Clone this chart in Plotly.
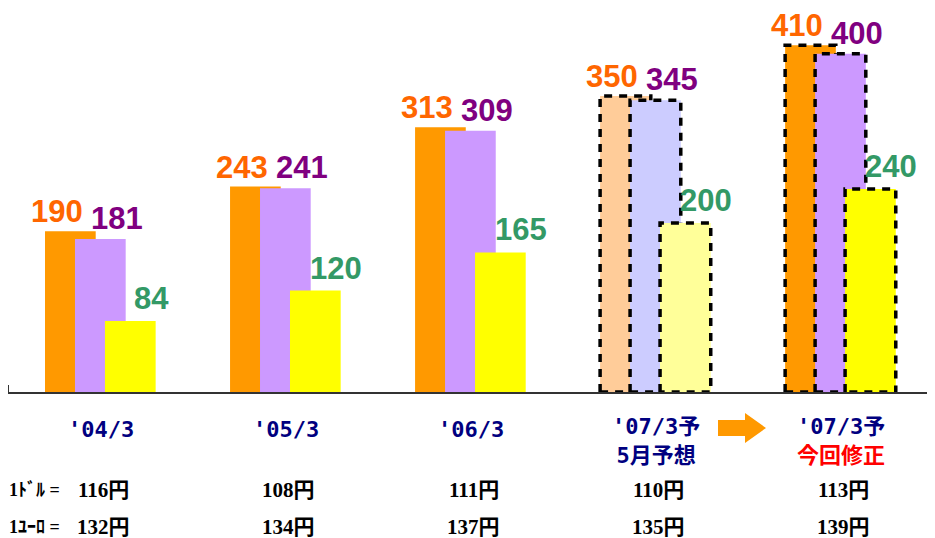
import plotly.graph_objects as go

# ---------------- data ----------------
categories = ["'04/3", "'05/3", "'06/3", "'07/3予", "'07/3予"]
subtitles = ["", "", "", "5月予想", "今回修正"]
subtitle_colors = ["#000080", "#000080", "#000080", "#000080", "#FF0000"]
series_a = [190, 243, 313, 350, 410]   # orange
series_b = [181, 241, 309, 345, 400]   # purple
series_c = [84, 120, 165, 200, 240]    # yellow
usd_rate = ["116円", "108円", "111円", "110円", "113円"]
eur_rate = ["132円", "134円", "137円", "135円", "139円"]
usd_label = "1ﾄﾞﾙ ="
eur_label = "1ﾕｰﾛ ="
forecast = [False, False, False, True, True]   # dashed outline
faded = [False, False, False, True, False]     # pale fill

# ---------------- styles ----------------
full_colors = ["#FF9900", "#CC99FF", "#FFFF00"]
pale_colors = ["#FFCC99", "#CCCCFF", "#FFFF99"]
text_colors = ["#FF6600", "#800080", "#339966"]
label_xshift = [-13, 17, 21]
label_yshift = [1, 2, 4]
BAR_W = 0.274
OFFSETS = [-0.30, -0.138, 0.024]

series = [series_a, series_b, series_c]
xs = list(range(len(categories)))

fig = go.Figure()

for k, vals in enumerate(series):
    colors = [pale_colors[k] if f else full_colors[k] for f in faded]
    fig.add_trace(go.Bar(
        x=xs, y=vals, width=BAR_W, offset=OFFSETS[k],
        marker=dict(color=colors, line=dict(width=0)),
        hoverinfo="skip", showlegend=False,
    ))

# dashed outlines for forecast groups
for k, vals in enumerate(series):
    ox, oy = [], []
    for i, v in enumerate(vals):
        if not forecast[i]:
            continue
        x0 = i + OFFSETS[k]
        x1 = x0 + BAR_W
        if k + 1 < len(series):
            nv = series[k + 1][i]
            nx0 = i + OFFSETS[k + 1]
            top_end = x1 if nv < v else nx0
            ox += [x0, x0, top_end]
            oy += [0, v, v]
            if nv < v:
                ox += [x1]
                oy += [nv]
            ox += [None, x0, nx0, None]
            oy += [None, 0, 0, None]
        else:
            ox += [x0, x0, x1, x1, x0, None]
            oy += [0, v, v, 0, 0, None]
    if ox:
        fig.add_trace(go.Scatter(
            x=ox, y=oy, mode="lines",
            line=dict(color="black", width=3.5, dash="8px,7px"),
            hoverinfo="skip", showlegend=False, cliponaxis=False,
        ))

annotations = []
# value labels
for k, vals in enumerate(series):
    for i, v in enumerate(vals):
        annotations.append(dict(
            x=i + OFFSETS[k] + BAR_W / 2, y=v, xref="x", yref="y",
            text=str(v), showarrow=False, xanchor="center", yanchor="bottom",
            xshift=label_xshift[k], yshift=label_yshift[k], borderpad=0,
            font=dict(family="Liberation Sans", size=31, color=text_colors[k],
                      weight="bold"),
        ))

# category labels and rates
for i, c in enumerate(categories):
    if subtitles[i]:
        text = (f"{c}<br><span style='color:{subtitle_colors[i]}'>"
                f"{subtitles[i]}</span>")
        yshift = -49
    else:
        text = c
        yshift = -37
    annotations.append(dict(
        x=i, y=0, xref="x", yref="paper", text=text, showarrow=False,
        xanchor="center", yanchor="middle", yshift=yshift, borderpad=0,
        font=dict(family="DejaVu Sans Mono, Noto Sans CJK JP", size=22,
                  color="#000080", weight="bold"),
    ))
    annotations.append(dict(
        x=i, y=0, xref="x", yref="paper", text=usd_rate[i], showarrow=False,
        xanchor="center", yanchor="middle", yshift=-98, xshift=3, borderpad=0,
        font=dict(family="Liberation Serif, Noto Sans CJK JP", size=21,
                  color="black", weight="bold"),
    ))
    annotations.append(dict(
        x=i, y=0, xref="x", yref="paper", text=eur_rate[i], showarrow=False,
        xanchor="center", yanchor="middle", yshift=-135, xshift=3, borderpad=0,
        font=dict(family="Liberation Serif, Noto Sans CJK JP", size=21,
                  color="black", weight="bold"),
    ))

for lbl, ys in [(usd_label, -98), (eur_label, -135)]:
    annotations.append(dict(
        x=0, y=0, xref="paper", yref="paper", text=lbl, showarrow=False,
        xanchor="left", yanchor="middle", yshift=ys, borderpad=0,
        font=dict(family="Liberation Serif, Noto Sans CJK JP", size=18,
                  color="black", weight="bold"),
    ))

# ---------------- layout ----------------
# the page body adds an 8px margin, so the figure is drawn 8px smaller
PAGE_OFF = 8
W, H = 935 - PAGE_OFF, 538 - PAGE_OFF
ML, MR, MT, MB = 0, 0, 12, 146
PW, PH = W - ML - MR, H - MT - MB


def px(xp):   # page pixel -> paper x
    return (xp - PAGE_OFF - ML) / PW


def py(yp):   # page pixel -> paper y
    return (H - MB - (yp - PAGE_OFF)) / PH


arrow_path = (
    f"M {px(718)},{py(420)} L {px(745)},{py(420)} L {px(745)},{py(413)} "
    f"L {px(766)},{py(428)} L {px(745)},{py(443)} L {px(745)},{py(436)} "
    f"L {px(718)},{py(436)} Z"
)

fig.update_layout(
    width=W, height=H,
    margin=dict(l=ML, r=MR, t=MT, b=MB),
    paper_bgcolor="white", plot_bgcolor="white",
    barmode="overlay",
    xaxis=dict(range=[-0.5, 4.51], showticklabels=False, showgrid=False,
               zeroline=False, showline=True, linecolor="#333333", linewidth=2,
               ticks=""),
    yaxis=dict(range=[0, PH / 0.8456], showticklabels=False, showgrid=False,
               zeroline=False, showline=False, ticks=""),
    annotations=annotations,
    shapes=[
        dict(type="path", xref="paper", yref="paper", path=arrow_path,
             fillcolor="#FF9900", line=dict(width=0)),
        dict(type="line", xref="paper", yref="paper", x0=0, x1=0,
             y0=0, y1=7 / PH, line=dict(color="#333333", width=2)),
    ],
)

fig.write_html("out.html")
